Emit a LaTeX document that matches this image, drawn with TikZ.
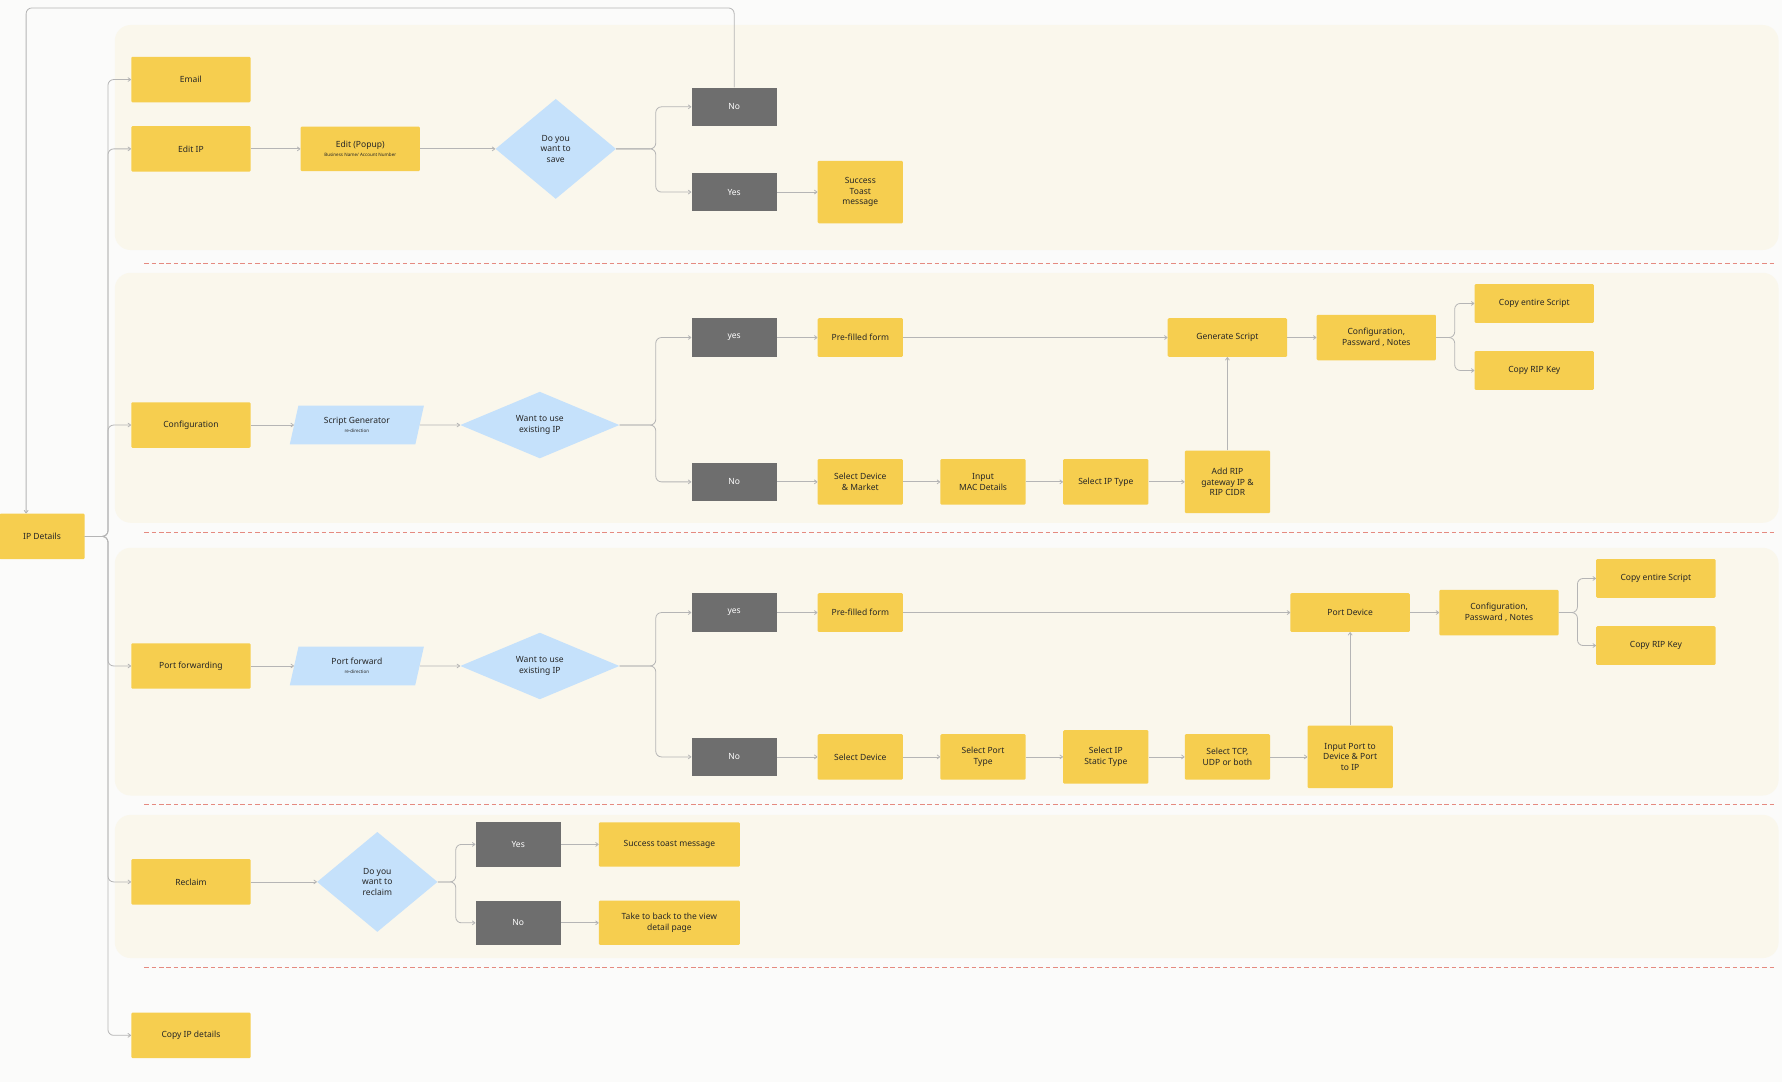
\documentclass[tikz,border=0pt]{standalone}
\usepackage{fontspec}
\setmainfont{Noto Sans}
\usetikzlibrary{shapes.geometric,arrows.meta}
\definecolor{bg}{HTML}{FBFBFA}
\definecolor{band}{HTML}{FAF7EC}
\definecolor{yel}{HTML}{F6CE4F}
\definecolor{gry}{HTML}{6E6E6E}
\definecolor{blu}{HTML}{C5E1FB}
\definecolor{ln}{HTML}{B5B5B5}
\definecolor{redd}{HTML}{E58A80}
\begin{document}
\begin{tikzpicture}[x=1pt,y=-1pt,
  every node/.style={font=\fontsize{7.5}{9.5}\selectfont, text=black!85, align=center, inner sep=0pt},
  box/.style={fill=yel, rounded corners=1pt, minimum width=105pt, minimum height=40pt},
  sbox/.style={fill=yel, rounded corners=1pt, minimum width=75pt, minimum height=34pt},
  gbox/.style={fill=gry, text=white, minimum width=75pt, minimum height=34pt},
  dia/.style={diamond, fill=blu},
  para/.style={trapezium, trapezium left angle=60, trapezium right angle=120, trapezium stretches body, fill=blu, minimum width=118pt, minimum height=34pt},
  con/.style={draw=ln, line width=0.7pt, rounded corners=5pt, -{To[length=3pt,width=4pt]}},
  sep/.style={draw=redd, line width=0.6pt, dash pattern=on 4pt off 2.5pt}]
\useasboundingbox (0,0) rectangle (1568,952);
\fill[bg] (0,0) rectangle (1568,952);
\foreach \a/\b in {22/220,240/460,482/700,717/843}
  \fill[band, rounded corners=14pt] (101,\a) rectangle (1565,\b);
\foreach \y in {232,468,708,851}
  \draw[sep] (127,\y) -- (1562,\y);

% nodes
\node[box, minimum width=75pt] (ip) at (37,472) {IP Details};
\node[box] (email) at (168,70) {Email};
\node[box] (editip) at (168,131) {Edit IP};
\node[box, minimum height=39pt] (popup) at (317,131) {Edit (Popup)\\[-2pt]{\fontsize{4}{5}\selectfont Business Name/ Account Number}};
\node[dia, minimum width=106pt, minimum height=88pt] (save) at (489,131) {Do you\\want to\\save};
\node[gbox] (no1) at (646,94) {No};
\node[gbox] (yes1) at (646,169) {Yes};
\node[sbox, minimum height=55pt] (toast1) at (757,169) {Success\\Toast\\message};

\node[box] (conf) at (168,374) {Configuration};
\node[para] (sg) at (314,374) {Script Generator\\[-2pt]{\fontsize{4}{5}\selectfont re-direction}};
\node[dia, minimum width=140pt, minimum height=58pt] (want1) at (475,374) {Want to use\\existing IP};
\node[gbox] (yes2) at (646,297) {yes};
\node[gbox] (no2) at (646,424) {No};
\node[sbox] (pf1) at (757,297) {Pre-filled form};
\node[sbox, minimum width=105pt] (gen) at (1080,297) {Generate Script};
\node[sbox, minimum width=105pt, minimum height=40pt] (cpn1) at (1211,297) {Configuration,\\Passward , Notes};
\node[sbox, minimum width=105pt] (ces1) at (1350,267) {Copy entire Script};
\node[sbox, minimum width=105pt] (crk1) at (1350,326) {Copy RIP Key};
\node[sbox, minimum height=40pt] (sdm) at (757,424) {Select Device\\\& Market};
\node[sbox, minimum height=40pt] (mac) at (865,424) {Input\\MAC Details};
\node[sbox, minimum height=40pt] (ipt) at (973,424) {Select IP Type};
\node[sbox, minimum height=55pt] (rip) at (1080,424) {Add RIP\\gateway IP \&\\RIP CIDR};

\node[box] (pfw) at (168,586) {Port forwarding};
\node[para] (pfp) at (314,586) {Port forward\\[-2pt]{\fontsize{4}{5}\selectfont re-direction}};
\node[dia, minimum width=140pt, minimum height=58pt] (want2) at (475,586) {Want to use\\existing IP};
\node[gbox] (yes3) at (646,539) {yes};
\node[gbox] (no3) at (646,666) {No};
\node[sbox] (pf2) at (757,539) {Pre-filled form};
\node[sbox, minimum width=105pt] (pdev) at (1188,539) {Port Device};
\node[sbox, minimum width=105pt, minimum height=40pt] (cpn2) at (1319,539) {Configuration,\\Passward , Notes};
\node[sbox, minimum width=105pt] (ces2) at (1457,509) {Copy entire Script};
\node[sbox, minimum width=105pt] (crk2) at (1457,568) {Copy RIP Key};
\node[sbox, minimum height=40pt] (sd) at (757,666) {Select Device};
\node[sbox, minimum height=40pt] (spt) at (865,666) {Select Port\\Type};
\node[sbox, minimum height=47pt] (sist) at (973,666) {Select IP\\Static Type};
\node[sbox, minimum height=40pt] (tcp) at (1080,666) {Select TCP,\\UDP or both};
\node[sbox, minimum height=55pt] (ipd) at (1188,666) {Input Port to\\Device \& Port\\to IP};

\node[box] (recl) at (168,776) {Reclaim};
\node[dia, minimum width=106pt, minimum height=88pt] (rdia) at (332,776) {Do you\\want to\\reclaim};
\node[gbox, minimum height=39pt] (yes4) at (456,743) {Yes};
\node[gbox, minimum height=39pt] (no4) at (456,812) {No};
\node[sbox, minimum width=124pt, minimum height=39pt] (stm) at (589,743) {Success toast message};
\node[sbox, minimum width=124pt, minimum height=39pt] (back) at (589,812) {Take to back to the view\\detail page};
\node[box] (copyip) at (168,911) {Copy IP details};

% trunk
\coordinate (t) at (95,472);
\foreach \n in {email,editip,conf,pfw,recl,copyip}
  \draw[con] (ip.east) -- (t) |- (\n.west);
\coordinate (lp1) at (646,7);
\coordinate (lp2) at (23,7);
\draw[con] (no1.north) -- (lp1) -- (lp2) -- (ip.north -| lp2);

% section 1
\draw[con] (editip) -- (popup);
\draw[con] (popup) -- (save.west);
\draw[con] (save.east) -- (577,131) |- (no1.west);
\draw[con] (save.east) -- (577,131) |- (yes1.west);
\draw[con] (yes1) -- (toast1);

% section 2
\draw[con] (conf) -- (sg);
\draw[con] (sg) -- (want1.west);
\draw[con] (want1.east) -- (577,374) |- (yes2.west);
\draw[con] (want1.east) -- (577,374) |- (no2.west);
\draw[con] (yes2) -- (pf1);
\draw[con] (pf1) -- (gen);
\draw[con] (gen) -- (cpn1);
\draw[con] (cpn1.east) -- (1280,297) |- (ces1.west);
\draw[con] (cpn1.east) -- (1280,297) |- (crk1.west);
\draw[con] (no2) -- (sdm);
\draw[con] (sdm) -- (mac);
\draw[con] (mac) -- (ipt);
\draw[con] (ipt) -- (rip);
\draw[con] (rip) -- (gen);

% section 3
\draw[con] (pfw) -- (pfp);
\draw[con] (pfp) -- (want2.west);
\draw[con] (want2.east) -- (577,586) |- (yes3.west);
\draw[con] (want2.east) -- (577,586) |- (no3.west);
\draw[con] (yes3) -- (pf2);
\draw[con] (pf2) -- (pdev);
\draw[con] (pdev) -- (cpn2);
\draw[con] (cpn2.east) -- (1388,539) |- (ces2.west);
\draw[con] (cpn2.east) -- (1388,539) |- (crk2.west);
\draw[con] (no3) -- (sd);
\draw[con] (sd) -- (spt);
\draw[con] (spt) -- (sist);
\draw[con] (sist) -- (tcp);
\draw[con] (tcp) -- (ipd);
\draw[con] (ipd) -- (pdev);

% section 4
\draw[con] (recl) -- (rdia.west);
\draw[con] (rdia.east) -- (401,776) |- (yes4.west);
\draw[con] (rdia.east) -- (401,776) |- (no4.west);
\draw[con] (yes4) -- (stm);
\draw[con] (no4) -- (back);
\end{tikzpicture}
\end{document}
